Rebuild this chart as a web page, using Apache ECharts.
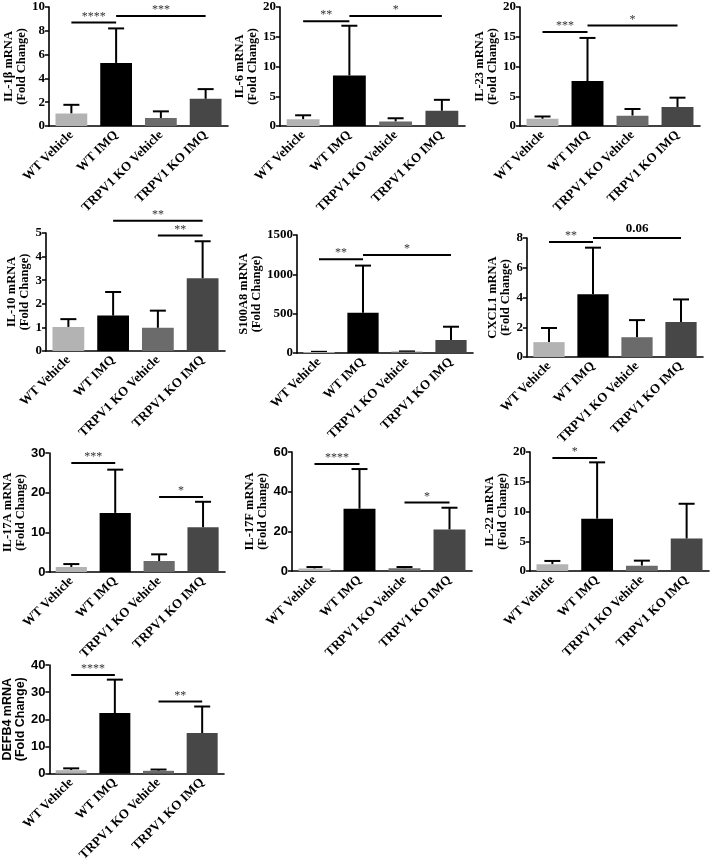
<!DOCTYPE html>
<html>
<head>
<meta charset="utf-8">
<script src="https://cdn.jsdelivr.net/npm/echarts@6/dist/echarts.min.js"></script>
<style>
html,body{margin:0;padding:0;background:#fff;}
#chart{width:713px;height:864px;}
</style>
</head>
<body>
<div id="chart"></div>
<script>
// ---------- DATA ----------
const categories = ['WT Vehicle', 'WT IMQ', 'TRPV1 KO Vehicle', 'TRPV1 KO IMQ'];

const il1bMean = [1.05, 5.3, 0.67, 2.28];
const il1bErrTop = [1.78, 8.2, 1.23, 3.1];
const il1bSig = [[0, 1, 8.7, '****'], [1, 3, 9.24, '***']];

const il6Mean = [1.12, 8.5, 0.75, 2.55];
const il6ErrTop = [1.8, 16.85, 1.3, 4.4];
const il6Sig = [[0, 1, 17.6, '**'], [1, 3, 18.5, '*']];

const il23Mean = [1.2, 7.56, 1.74, 3.19];
const il23ErrTop = [1.6, 14.8, 2.86, 4.76];
const il23Sig = [[0, 1, 15.8, '***'], [1, 3, 16.9, '*']];

const il10Mean = [1.02, 1.5, 0.98, 3.08];
const il10ErrTop = [1.35, 2.5, 1.71, 4.65];
const il10Sig = [[1, 3, 5.52, '**'], [2, 3, 4.89, '**']];

const s100a8Mean = [12, 511, 17, 165];
const s100a8ErrTop = [15, 1111, 20, 334];
const s100a8Sig = [[0, 1, 1191, '**'], [1, 3, 1246, '*']];

const cxcl1Mean = [1.0, 4.22, 1.33, 2.35];
const cxcl1ErrTop = [1.95, 7.35, 2.48, 3.87];
const cxcl1Sig = [[0, 1, 7.73, '**'], [1, 3, 8.0, '0.06']];

const il17aMean = [1.26, 14.9, 2.77, 11.26];
const il17aErrTop = [2.0, 25.8, 4.45, 17.7];
const il17aSig = [[0, 1, 27.5, '***'], [2, 3, 18.9, '*']];

const il17fMean = [1.2, 31.4, 1.35, 20.9];
const il17fErrTop = [2.0, 51.4, 2.0, 31.9];
const il17fSig = [[0, 1, 53.9, '****'], [2, 3, 34.5, '*']];

const il22Mean = [1.12, 8.8, 0.9, 5.45];
const il22ErrTop = [1.69, 18.26, 1.74, 11.3];
const il22Sig = [[0, 1, 19.0, '*']];

const defb4Mean = [1.24, 22.3, 1.0, 14.9];
const defb4ErrTop = [1.9, 34.6, 1.46, 24.7];
const defb4Sig = [[0, 1, 36.3, '****'], [2, 3, 26.5, '**']];

const yAxisNames = ['IL-1β mRNA', 'IL-6 mRNA', 'IL-23 mRNA', 'IL-10 mRNA', 'S100A8 mRNA',
  'CXCL1 mRNA', 'IL-17A mRNA', 'IL-17F mRNA', 'IL-22 mRNA', 'DEFB4 mRNA'];
const yMax = [10, 20, 20, 5, 1500, 8, 30, 60, 20, 40];
const yInterval = [2, 5, 5, 1, 500, 2, 10, 20, 5, 10];

// ---------- STYLE / LAYOUT ----------
const barColors = ['#b3b3b3', '#000000', '#6b6b6b', '#474747'];
const SERIF = '"Liberation Serif","Times New Roman",serif';
const SANS = '"Liberation Sans",Arial,sans-serif';

const panelData = [
  [il1bMean, il1bErrTop, il1bSig],
  [il6Mean, il6ErrTop, il6Sig],
  [il23Mean, il23ErrTop, il23Sig],
  [il10Mean, il10ErrTop, il10Sig],
  [s100a8Mean, s100a8ErrTop, s100a8Sig],
  [cxcl1Mean, cxcl1ErrTop, cxcl1Sig],
  [il17aMean, il17aErrTop, il17aSig],
  [il17fMean, il17fErrTop, il17fSig],
  [il22Mean, il22ErrTop, il22Sig],
  [defb4Mean, defb4ErrTop, defb4Sig]
];
// grid [left, top, width, height], nameGap, tick font, name font
const layout = [
  {g: [49, 7, 179, 119], gap: 19, tf: SERIF, nf: SERIF},
  {g: [280, 7, 185, 119], gap: 17, tf: SERIF, nf: SERIF},
  {g: [520, 7, 180, 119], gap: 17, tf: SERIF, nf: SERIF},
  {g: [46, 233, 179, 118], gap: 9, tf: SERIF, nf: SERIF},
  {g: [297, 235, 176, 118], gap: 31, tf: SERIF, nf: SERIF},
  {g: [527, 238, 176, 119], gap: 10, tf: SERIF, nf: SERIF},
  {g: [46, 453, 179, 119], gap: 19, tf: SANS, nf: SERIF},
  {g: [292, 452, 180, 119], gap: 18, tf: SANS, nf: SERIF},
  {g: [530, 452, 179, 119], gap: 10, tf: SERIF, nf: SERIF},
  {g: [44, 665, 180, 118], gap: 16, tf: SANS, nf: SANS}
];

const grids = [], xAxes = [], yAxes = [], series = [];
panelData.forEach(function (pd, i) {
  const L = layout[i];
  const mean = pd[0], errTop = pd[1], sig = pd[2];
  grids.push({left: L.g[0], top: L.g[1], width: L.g[2], height: L.g[3], containLabel: false});
  xAxes.push({
    type: 'category', gridIndex: i, data: categories,
    axisLine: {lineStyle: {color: '#000', width: 1.6}},
    axisTick: {alignWithLabel: true, length: 4, lineStyle: {color: '#000', width: 1.5}},
    axisLabel: {rotate: 45, interval: 0, margin: 7, color: '#000', fontWeight: 'bold',
      fontSize: 13, fontFamily: SERIF}
  });
  yAxes.push({
    type: 'value', gridIndex: i, min: 0, max: yMax[i], interval: yInterval[i],
    name: yAxisNames[i] + '\n(Fold Change)', nameLocation: 'middle', nameRotate: 90,
    nameGap: L.gap,
    nameTextStyle: {color: '#000', fontWeight: 'bold', fontSize: 12.5, fontFamily: L.nf, lineHeight: 13},
    axisLine: {show: true, lineStyle: {color: '#000', width: 1.6}},
    axisTick: {show: true, length: 4, lineStyle: {color: '#000', width: 1.5}},
    axisLabel: {color: '#000', fontWeight: 'bold', fontSize: 13, fontFamily: L.tf, margin: 4,
      formatter: function (v) { return String(v); }},
    splitLine: {show: false}
  });
  series.push({
    type: 'bar', xAxisIndex: i, yAxisIndex: i, data: mean, barWidth: '71%',
    itemStyle: {color: function (p) { return barColors[p.dataIndex]; }},
    animation: false, silent: true
  });
  series.push({
    type: 'custom', xAxisIndex: i, yAxisIndex: i, clip: false, silent: true,
    data: mean.map(function (m, k) { return [k, m, errTop[k]]; }),
    encode: {x: 0, y: [1, 2]},
    renderItem: function (params, api) {
      const base = api.coord([api.value(0), api.value(1)]);
      const top = api.coord([api.value(0), api.value(2)]);
      const st = {stroke: '#000', lineWidth: 2};
      return {type: 'group', children: [
        {type: 'line', shape: {x1: base[0], y1: base[1], x2: top[0], y2: top[1]}, style: st},
        {type: 'line', shape: {x1: top[0] - 8, y1: top[1], x2: top[0] + 8, y2: top[1]}, style: st}
      ]};
    }
  });
  series.push({
    type: 'custom', xAxisIndex: i, yAxisIndex: i, clip: false, silent: true,
    data: sig.map(function (s) { return [s[0], s[1], s[2]]; }),
    encode: {x: [0, 1], y: 2},
    renderItem: function (params, api) {
      const p1 = api.coord([api.value(0), api.value(2)]);
      const p2 = api.coord([api.value(1), api.value(2)]);
      const label = sig[params.dataIndex][3];
      const isNum = /\d/.test(label);
      return {type: 'group', children: [
        {type: 'line', shape: {x1: p1[0], y1: p1[1], x2: p2[0], y2: p2[1]},
          style: {stroke: '#000', lineWidth: 2}},
        {type: 'text', style: {
          text: label, x: (p1[0] + p2[0]) / 2, y: p1[1] - (isNum ? 3 : 0),
          align: 'center', verticalAlign: 'bottom', textAlign: 'center', textVerticalAlign: 'bottom',
          font: isNum ? 'bold 13px ' + SERIF : '12px ' + SERIF,
          fill: isNum ? '#000' : '#333'
        }}
      ]};
    }
  });
});

const chart = echarts.init(document.getElementById('chart'), null, {renderer: 'canvas'});
chart.setOption({
  animation: false,
  backgroundColor: '#fff',
  grid: grids, xAxis: xAxes, yAxis: yAxes, series: series
});
</script>
</body>
</html>
